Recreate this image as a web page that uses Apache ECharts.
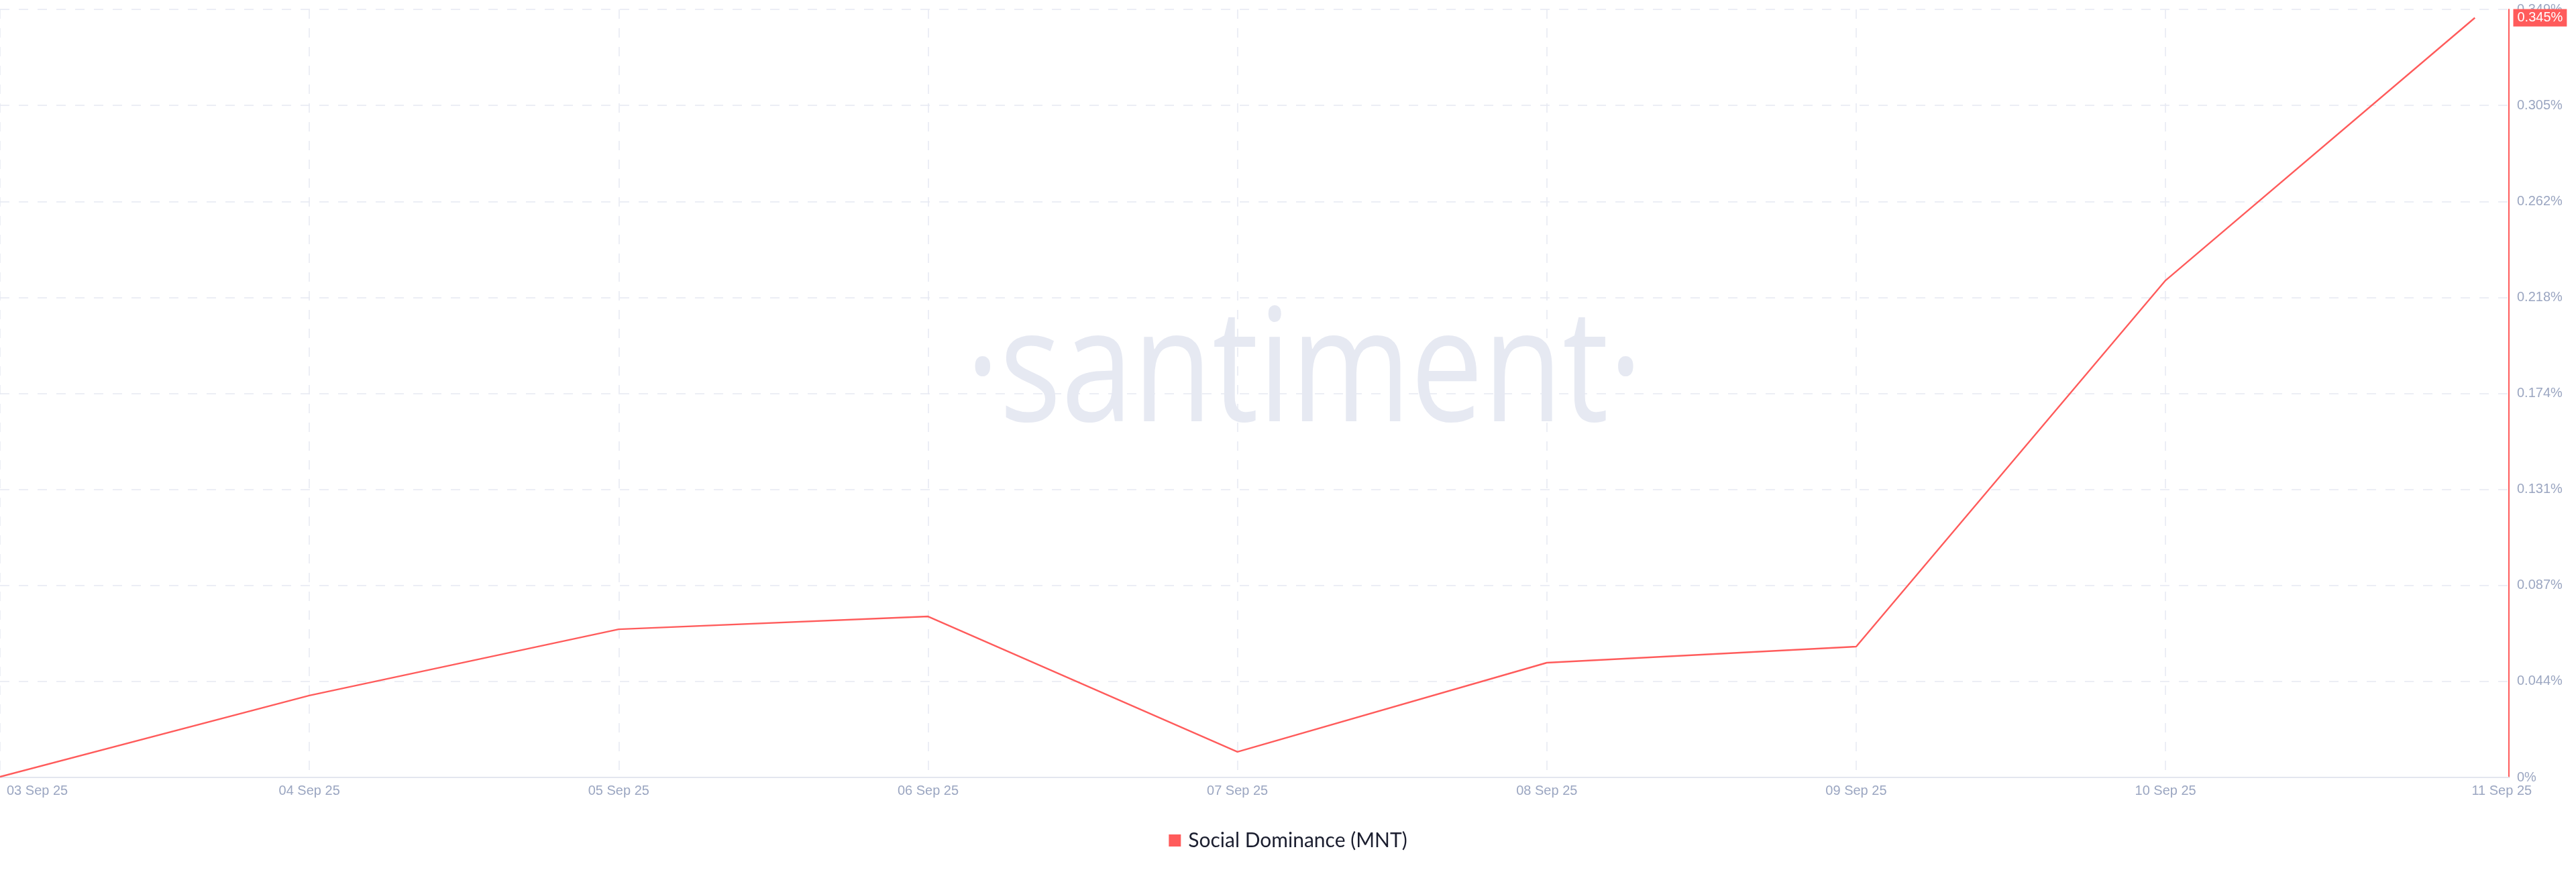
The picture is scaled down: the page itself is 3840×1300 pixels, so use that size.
<!DOCTYPE html>
<html>
<head>
<meta charset="utf-8">
<script src="https://cdn.jsdelivr.net/npm/echarts@6/dist/echarts.min.js"></script>
<style>
  html, body { margin: 0; padding: 0; background: #ffffff; }
  #chart { width: 3840px; height: 1300px; }
</style>
</head>
<body>
<div id="chart"></div>
<script>
// ---- data ----
const dates = ['03 Sep 25', '04 Sep 25', '05 Sep 25', '06 Sep 25', '07 Sep 25', '08 Sep 25', '09 Sep 25', '10 Sep 25', '11 Sep 25'];
const socialDominance = [0.0003, 0.0372, 0.0673, 0.0731, 0.0116, 0.0521, 0.0594, 0.2257, 0.345];
const seriesName = 'Social Dominance (MNT)';
const lastValueLabel = '0.345%';
// y axis ticks: 0%, 0.044%, 0.087%, 0.131%, 0.174%, 0.218%, 0.262%, 0.305%, 0.349%
const yMax = 0.3488;
const yStep = 0.0436;
const xMax = 8.11;

const RED = '#ff5b5b';
const AXIS_TEXT = '#9ba6c1';
const GRID = '#e6e9f2';
const NONE = 'rgba(0,0,0,0)';

// vertical grid lines at every date except the last one (and the axis end)
const xSplitColors = dates.map((d, i) => (i === dates.length - 1 ? NONE : GRID)).concat([NONE]);

const chart = echarts.init(document.getElementById('chart'), null, { renderer: 'canvas' });

const option = {
  backgroundColor: '#ffffff',
  animation: false,
  graphic: [{
    type: 'text',
    z: -10,
    silent: true,
    x: 1944,
    y: 561,
    scaleX: 0.82,
    style: {
      text: '\u00B7santiment\u00B7',
      x: 0, y: 0,
      textAlign: 'center',
      textVerticalAlign: 'middle',
      font: '400 235px "Open Sans"',
      fill: '#e6e9f2'
    }
  }],
  grid: { left: 0, right: 100, top: 14, bottom: 141, containLabel: false },
  legend: {
    data: [seriesName],
    left: 'center',
    top: 1233,
    icon: 'rect',
    itemWidth: 18,
    itemHeight: 18,
    textStyle: { fontFamily: 'Lato', fontSize: 30, color: '#1b1e2f', padding: [0, 0, 0, 6] }
  },
  xAxis: {
    type: 'value',
    min: 0,
    max: xMax,
    interval: 1,
    axisLine: { show: true, onZero: false, lineStyle: { color: '#e3e6ef', width: 2 } },
    axisTick: { show: false },
    splitLine: { show: true, showMaxLine: false, lineStyle: { color: xSplitColors, type: [14, 14], width: 1.5 } },
    axisLabel: {
      show: true,
      margin: 10,
      color: AXIS_TEXT,
      fontFamily: 'Liberation Sans',
      fontSize: 20,
      alignMinLabel: 'left',
      showMaxLabel: false,
      formatter: function (v) {
        if (Math.abs(v - Math.round(v)) > 1e-6) return '';
        const i = Math.round(v);
        if (i < 0 || i >= dates.length) return '';
        if (i === 0) return '{first|' + dates[i] + '}';
        if (i === dates.length - 1) return '{last|' + dates[i] + '}';
        return dates[i];
      },
      rich: {
        first: { color: AXIS_TEXT, fontFamily: 'Liberation Sans', fontSize: 20, padding: [0, 0, 0, 10] },
        last: { color: AXIS_TEXT, fontFamily: 'Liberation Sans', fontSize: 20, padding: [0, 0, 0, 80] }
      }
    }
  },
  yAxis: {
    type: 'value',
    position: 'right',
    min: 0,
    max: yMax,
    interval: yStep,
    axisLine: { show: true, onZero: false, lineStyle: { color: RED, width: 2 } },
    axisTick: { show: false },
    splitLine: { show: true, lineStyle: { color: GRID, type: [14, 14], width: 1.5 } },
    axisLabel: {
      margin: 12,
      color: AXIS_TEXT,
      fontFamily: 'Liberation Sans',
      fontSize: 20,
      formatter: function (v) { return v === 0 ? '0%' : v.toFixed(3) + '%'; }
    }
  },
  series: [{
    name: seriesName,
    type: 'line',
    clip: false,
    data: socialDominance.map((v, i) => [i, v]),
    showSymbol: false,
    symbol: 'none',
    smooth: false,
    itemStyle: { color: RED },
    lineStyle: { color: RED, width: 2.4 },
    markPoint: {
      silent: true,
      symbol: 'rect',
      symbolSize: 1,
      itemStyle: { color: NONE },
      data: [{ coord: [xMax, socialDominance[socialDominance.length - 1]], value: socialDominance[socialDominance.length - 1] }],
      label: {
        show: true,
        position: 'right',
        distance: 6,
        formatter: lastValueLabel,
        color: '#ffffff',
        backgroundColor: RED,
        fontFamily: 'Liberation Sans',
        fontSize: 20,
        padding: [3, 6, 3, 6]
      }
    }
  }]
};

chart.setOption(option);
</script>
</body>
</html>
